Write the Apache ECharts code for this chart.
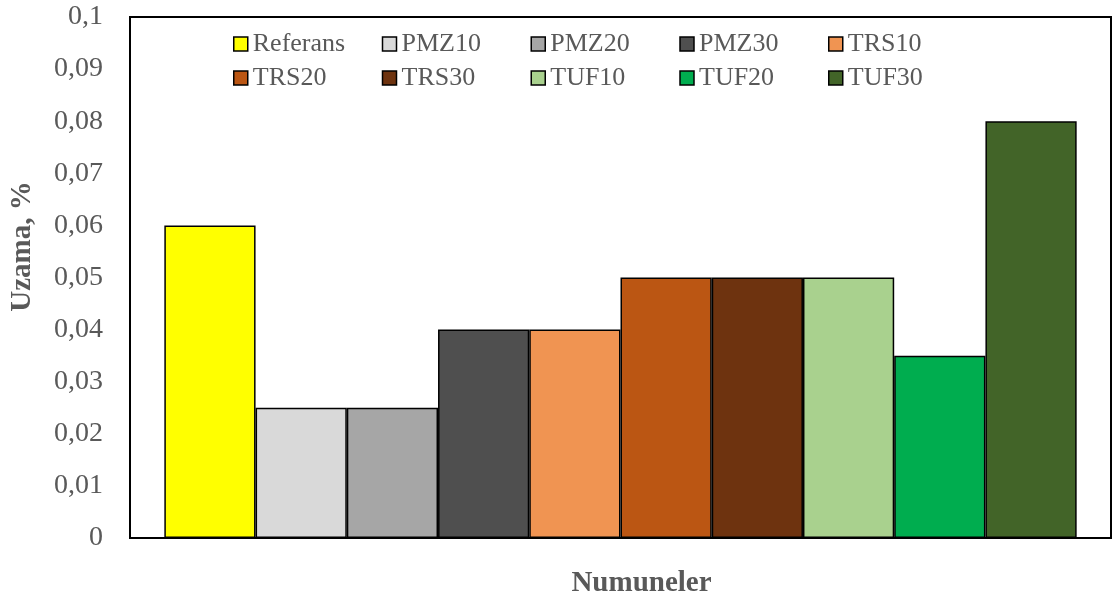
<!DOCTYPE html>
<html>
<head>
<meta charset="utf-8">
<script src="https://cdn.jsdelivr.net/npm/echarts@6/dist/echarts.min.js"></script>
<style>
  html, body { margin: 0; padding: 0; background: #fff; }
  #chart { width: 1118px; height: 599px; }
</style>
</head>
<body>
<div id="chart"></div>
<script>
// Elongation (%) per sample group
const seriesNames = ['Referans', 'PMZ10', 'PMZ20', 'PMZ30', 'TRS10', 'TRS20', 'TRS30', 'TUF10', 'TUF20', 'TUF30'];
const seriesValues = [0.06, 0.025, 0.025, 0.04, 0.04, 0.05, 0.05, 0.05, 0.035, 0.08];
const seriesColors = ['#FFFF00', '#D9D9D9', '#A6A6A6', '#4F4F4F', '#F09452', '#BB5613', '#6E330F', '#A9D18E', '#00AD4F', '#426428'];
const categories = [''];
const yTicks = [0, 0.01, 0.02, 0.03, 0.04, 0.05, 0.06, 0.07, 0.08, 0.09, 0.1];

const serif = '"Liberation Serif", "Times New Roman", serif';
const grey = '#595959';

const chart = echarts.init(document.getElementById('chart'), null, { renderer: 'canvas' });

const series = seriesNames.map((name, i) => ({
  name: name,
  type: 'bar',
  data: [seriesValues[i]],
  barGap: '0%',
  barCategoryGap: '7%',
  itemStyle: { color: seriesColors[i], borderColor: '#000', borderWidth: 1.5 }
}));

chart.setOption({
  animation: false,
  backgroundColor: '#fff',
  grid: {
    left: 130, right: 7, top: 17, bottom: 61,
    outerBoundsMode: 'none',
    containLabel: false,
    show: true, borderColor: '#000', borderWidth: 2, backgroundColor: 'transparent'
  },
  legend: {
    data: seriesNames,
    left: 228, top: 26, width: 770,
    orient: 'horizontal',
    itemWidth: 14, itemHeight: 14, itemGap: 8,
    icon: 'rect',
    itemStyle: { borderColor: '#000', borderWidth: 1.5 },
    formatter: '{a|{name}}',
    textStyle: {
      color: grey, fontFamily: serif, fontSize: 26, lineHeight: 22,
      rich: { a: { width: 121, fontFamily: serif, fontSize: 26, color: grey, lineHeight: 22 } }
    }
  },
  xAxis: {
    type: 'category',
    data: categories,
    axisLine: { show: true, lineStyle: { color: '#000', width: 2 } },
    axisTick: { show: false },
    axisLabel: { show: false },
    splitLine: { show: false },
    name: 'Numuneler',
    nameLocation: 'middle',
    nameGap: 31,
    nameTextStyle: { fontFamily: serif, fontSize: 29, fontWeight: 'bold', color: grey, padding: [0, 0, 0, 42] }
  },
  yAxis: {
    type: 'value',
    min: yTicks[0], max: yTicks[yTicks.length - 1], interval: 0.01,
    axisLine: { show: true, lineStyle: { color: '#000', width: 2 } },
    axisTick: { show: false },
    splitLine: { show: false },
    axisLabel: {
      margin: 27,
      fontFamily: serif, fontSize: 28, color: grey,
      formatter: v => String(Math.round(v * 100) / 100).replace('.', ',')
    },
    name: 'Uzama, %',
    nameLocation: 'middle',
    nameGap: 93,
    nameRotate: 90,
    nameTextStyle: { fontFamily: serif, fontSize: 29, fontWeight: 'bold', color: grey, padding: [0, 0, 0, 62] }
  },
  series: series
});
</script>
</body>
</html>
